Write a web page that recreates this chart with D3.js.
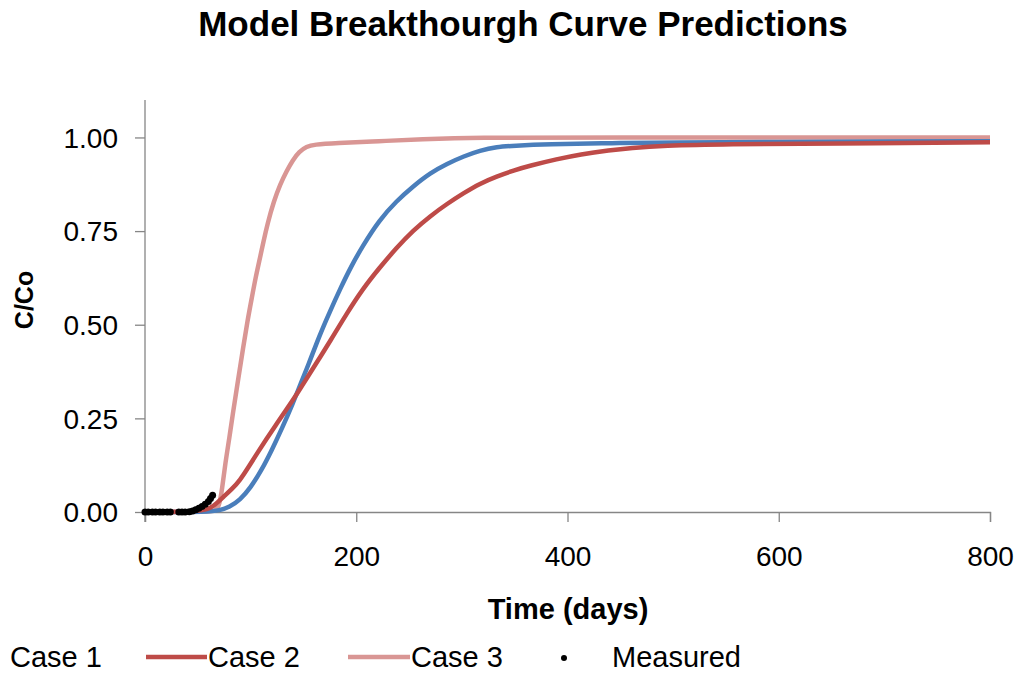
<!DOCTYPE html>
<html><head><meta charset="utf-8">
<script src="https://cdn.jsdelivr.net/npm/d3@7"></script>
<style>body{margin:0;background:#fff}svg{display:block;font-family:"Liberation Sans",Arial,sans-serif}</style>
</head><body><svg id="c" width="1019" height="675"></svg>
<script>
const case1Days = [0,62,70,80,90,100,110,120,130,140,147,155,165,175,185,195,206,222,238,254,270,286,302,317,333,349,380,443,500,600,700,800];
const case1Vals = [0,0,0.004,0.013,0.032,0.065,0.11,0.165,0.225,0.29,0.34,0.395,0.47,0.535,0.597,0.655,0.71,0.78,0.83,0.87,0.905,0.93,0.95,0.965,0.975,0.978,0.982,0.985,0.987,0.988,0.989,0.99];
const case2Days = [0,55,65,74,82,90,98,106,115,125,135,144,155,165,175,191,206,222,238,254,270,286,302,317,333,349,365,390,412,440,460,490,550,650,800];
const case2Vals = [0,0,0.015,0.04,0.06,0.085,0.12,0.156,0.195,0.237,0.278,0.316,0.365,0.41,0.455,0.53,0.595,0.652,0.705,0.752,0.79,0.823,0.852,0.877,0.896,0.912,0.925,0.942,0.955,0.966,0.972,0.978,0.982,0.984,0.987];
const case3Days = [0,60,66,70,73,76,80,83,88,93,97,101,105,109,112,116,122,128,134,140,146,153,160,180,222,260,317,400,800];
const case3Vals = [0,0,0.003,0.012,0.06,0.13,0.2,0.26,0.35,0.44,0.51,0.57,0.63,0.68,0.72,0.77,0.83,0.875,0.91,0.94,0.962,0.976,0.981,0.985,0.99,0.995,1.0,1.0,1.0];
const measuredDays = [0,3,7,10,14,17,21,24,32,35,38,42,45,48,51,54,57,60,62,64];
const measuredVals = [0,0,0,0,0,0,0,0,0,0,0,0.001,0.003,0.006,0.01,0.015,0.021,0.028,0.036,0.045];
const xTicks = [0,200,400,600,800];
const yTicks = [0,0.25,0.5,0.75,1.0];
const seriesNames = ["Case 1","Case 2","Case 3","Measured"];
const colors = ["#4A7EBB","#BE4B48","#D99694"];

const svg = d3.select("#c");
const x = d3.scaleLinear().domain([0,800]).range([145,990]);
const y = d3.scaleLinear().domain([0,1.1]).range([512,100]);
const axisColor = "#868686";

const xa = svg.append("g").attr("transform","translate(0,512)")
  .call(d3.axisBottom(x).tickValues(xTicks).tickSize(10).tickPadding(24).tickFormat(d3.format("d")));
const ya = svg.append("g").attr("transform","translate(145,0)")
  .call(d3.axisLeft(y).tickValues(yTicks).tickSize(10).tickPadding(17).tickFormat(d3.format(".2f")));
[xa,ya].forEach(a=>{
  a.select(".domain").attr("stroke",axisColor).attr("stroke-width",1.3);
  a.selectAll(".tick line").attr("stroke",axisColor).attr("stroke-width",1.3);
  a.selectAll(".tick text").attr("fill","#000").style("font-size","28px").style("font-family","Liberation Sans, Arial, sans-serif");
});
ya.select(".domain").attr("d","M-0,100V522");
ya.selectAll(".tick text").attr("dy","0.35em");

const line = d3.line().x(d=>x(d[0])).y(d=>y(d[1])).curve(d3.curveBasis);
const series = [[case1Days,case1Vals],[case2Days,case2Vals],[case3Days,case3Vals]];
[2,0,1].forEach(i=>{
  const pts = series[i][0].map((d,j)=>[d,series[i][1][j]]);
  svg.append("path").attr("d",line(pts)).attr("fill","none")
    .attr("stroke",colors[i]).attr("stroke-width",4.5).attr("stroke-linejoin","round");
});
svg.append("g").selectAll("circle").data(measuredDays.map((d,j)=>[d,measuredVals[j]]))
  .join("circle").attr("cx",d=>x(d[0])).attr("cy",d=>y(d[1])).attr("r",3.5).attr("fill","#000");

svg.append("text").attr("x",523).attr("y",36).attr("text-anchor","middle")
  .style("font-size","35px").style("font-weight","bold").text("Model Breakthourgh Curve Predictions");
svg.append("text").attr("x",568).attr("y",619).attr("text-anchor","middle")
  .style("font-size","29px").style("font-weight","bold").text("Time (days)");
svg.append("text").attr("transform","translate(33,300) rotate(-90)").attr("text-anchor","middle")
  .style("font-size","25px").style("font-weight","bold").text("C/Co");

const lg = svg.append("g").style("font-size","29px");
lg.append("text").attr("x",10).attr("y",667).text(seriesNames[0]);
lg.append("line").attr("x1",146).attr("x2",207).attr("y1",657).attr("y2",657).attr("stroke",colors[1]).attr("stroke-width",4.5);
lg.append("text").attr("x",208).attr("y",667).text(seriesNames[1]);
lg.append("line").attr("x1",348).attr("x2",410).attr("y1",657).attr("y2",657).attr("stroke",colors[2]).attr("stroke-width",4.5);
lg.append("text").attr("x",411).attr("y",667).text(seriesNames[2]);
lg.append("circle").attr("cx",564).attr("cy",658).attr("r",3).attr("fill","#000");
lg.append("text").attr("x",612).attr("y",667).text(seriesNames[3]);
</script></body></html>
